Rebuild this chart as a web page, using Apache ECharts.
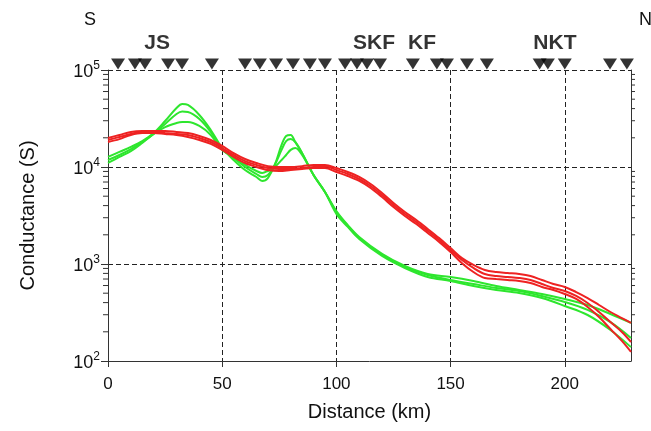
<!DOCTYPE html>
<html><head><meta charset="utf-8">
<script src="https://cdn.jsdelivr.net/npm/echarts@6/dist/echarts.min.js"></script>
<style>html,body{margin:0;padding:0;background:#fff}#c{width:651px;height:431px}</style>
</head><body><div id="c"></div>
<script>
// ---- data (distance in km, conductance in S) ----
const distG = [0,5,10,15,20,25,30,32.5,35,40,45,50,55,60,65,67.5,70,73,76,78,80,82,85,90,95,100,105,110,120,130,140,150,160,170,180,190,200,210,220,229];
const green1 = [12700,14300,16100,18500,22400,29800,40600,44600,43600,34400,24100,15700,11800,9310,7890,7180,7700,10500,16900,20900,21400,18100,13900,8270,5530,3520,2520,1900,1270,953,789,735,668,593,540,491,436,378,305,247];
const green2 = [11800,13300,15300,18100,21900,27800,35200,37300,36900,31300,23000,15300,12400,10000,8470,7890,8270,10500,15000,18500,19400,18100,13900,8270,5530,3440,2470,1850,1240,931,771,684,622,566,527,468,406,336,252,173];
const green3 = [11000,12700,14600,17700,21900,25800,28400,29100,29100,26500,21400,15000,12700,10500,9100,8670,9100,10000,11800,13300,15000,15700,13300,8270,5530,3280,2410,1810,1210,910,735,668,593,540,502,446,369,298,209,139];
const distR = [0,5,10,15,20,25,30,35,40,45,50,55,60,65,70,75,80,85,90,95,100,105,110,115,120,125,130,135,140,145,150,155,160,165,170,175,180,185,190,195,200,205,210,215,220,225,229];
const red1 = [19900,21400,23000,23500,23500,23500,23000,22400,20900,19000,16500,13900,12100,11000,10200,10000,10000,10200,10500,10500,9770,8880,7890,6680,5400,4260,3440,2840,2300,1850,1460,1150,977,867,827,808,789,752,684,622,580,514,446,378,320,277,247];
const red2 = [19000,20400,21900,23000,23000,22400,21900,21400,19900,18100,15700,13300,11500,10500,9770,9530,9530,9770,10000,10200,9310,8470,7520,6370,5140,4060,3280,2710,2190,1770,1390,1100,910,789,752,735,717,684,622,566,527,468,396,320,252,199,157];
const red3 = [18100,19400,21400,22400,22400,21900,21400,20400,19000,17300,15000,12700,11000,10000,9310,9100,9310,9530,9770,9770,8880,8080,7180,6080,4900,3870,3130,2580,2090,1690,1330,1020,827,717,700,684,668,637,580,540,491,436,360,284,214,161,124];
const stationKm = [4.4,11.8,16.2,26.3,32.4,45.5,60,66.5,73.6,81,88.4,95,103.8,109,113.4,119.1,133.5,144,148.4,157.2,165.9,189,192.6,200,219.8,227.2];
const faultNames = ['JS','SKF','KF','NKT'];
const faultKm = [21.5,116.5,137.5,195.7];
const xMax = 229;
const yMin = 100, yMax = 100000;
const yMinorTicks = [200,300,400,500,600,700,800,900,2000,3000,4000,5000,6000,7000,8000,9000,20000,30000,40000,50000,60000,70000,80000,90000];

const FONT = 'Liberation Sans, Arial, sans-serif';
const GREEN = '#2ee62e', RED = '#ee2222';
const zip = (xs, ys) => xs.map((x, i) => [x, ys[i]]);
const lineSeries = (xs, ys, color) => ({
  type: 'line', xAxisIndex: 0, yAxisIndex: 0, data: zip(xs, ys), smooth: 0.35,
  showSymbol: false, symbol: 'none', lineStyle: { color, width: 2 }, silent: true, animation: false
});

const chart = echarts.init(document.getElementById('c'), null, { renderer: 'canvas' });
chart.setOption({
  animation: false,
  backgroundColor: '#fff',
  grid: [
    { left: 108, right: 20, top: 70, bottom: 70 },
    { left: 108, right: 20, top: 57, height: 14 }
  ],
  xAxis: [
    { type: 'value', gridIndex: 0, min: 0, max: xMax, interval: 50,
      name: 'Distance (km)', nameLocation: 'middle', nameGap: 41,
      nameTextStyle: { fontFamily: FONT, fontSize: 20, color: '#111' },
      axisLine: { lineStyle: { color: '#333', width: 1 } },
      axisTick: { show: true, length: 6, lineStyle: { color: '#333' } },
      axisLabel: { fontFamily: FONT, fontSize: 17, color: '#111', margin: 15, showMaxLabel: false },
      splitLine: { show: true, showMinLine: false, showMaxLine: false, lineStyle: { color: '#222', type: [5, 3], width: 1 } } },
    { type: 'value', gridIndex: 1, min: 0, max: xMax, show: false }
  ],
  yAxis: [
    { type: 'log', gridIndex: 0, logBase: 10, min: yMin, max: yMax,
      name: 'Conductance (S)', nameLocation: 'middle', nameGap: 70,
      nameTextStyle: { fontFamily: FONT, fontSize: 20, color: '#111' },
      axisLine: { show: true, lineStyle: { color: '#333', width: 1 } },
      axisTick: { show: true, length: 7, lineStyle: { color: '#333' } },
      axisLabel: { margin: 8, formatter: v => '{b|10}{s|' + Math.round(Math.log10(v)) + '}',
        rich: { b: { fontFamily: FONT, fontSize: 18, color: '#111', padding: [4, 0, 0, 0] },
                s: { fontFamily: FONT, fontSize: 12, color: '#111', padding: [0, 0, 8, 0] } } },
      splitLine: { show: true, showMinLine: false, lineStyle: { color: '#222', type: [5, 3], width: 1 } } },
    { type: 'log', gridIndex: 0, logBase: 10, min: yMin, max: yMax, position: 'right',
      axisLine: { show: true, lineStyle: { color: '#333', width: 1 } },
      axisTick: { show: false }, axisLabel: { show: false }, splitLine: { show: false } },
    { type: 'value', gridIndex: 1, min: 0, max: 1, show: false }
  ],
  series: [
    lineSeries(distG, green1, GREEN),
    lineSeries(distG, green2, GREEN),
    lineSeries(distG, green3, GREEN),
    lineSeries(distR, red1, RED),
    lineSeries(distR, red2, RED),
    lineSeries(distR, red3, RED),
    { type: 'custom', xAxisIndex: 0, yAxisIndex: 0, silent: true,
      data: yMinorTicks.map(v => [0, v]),
      renderItem: (params, api) => {
        const v = api.value(1);
        const l = api.coord([0, v]);
        const r = api.coord([xMax, v]);
        return { type: 'group', children: [
          { type: 'line', shape: { x1: l[0] - 5, y1: l[1], x2: l[0], y2: l[1] }, style: { stroke: '#333', lineWidth: 1 } },
          { type: 'line', shape: { x1: r[0], y1: r[1], x2: r[0] + 4, y2: r[1] }, style: { stroke: '#333', lineWidth: 1 } }
        ] };
      } },
    { type: 'scatter', xAxisIndex: 1, yAxisIndex: 2, silent: true,
      data: stationKm.map(k => [k, 0.5]),
      symbol: 'triangle', symbolRotate: 180, symbolSize: [14, 11],
      itemStyle: { color: '#000' } },
    { type: 'scatter', xAxisIndex: 1, yAxisIndex: 2, silent: true,
      data: faultKm.map((k, i) => ({ value: [k, 0.5], name: faultNames[i] })),
      symbolSize: 0,
      label: { show: true, position: 'inside', offset: [0, -21], formatter: '{b}',
               fontFamily: FONT, fontWeight: 'bold', fontSize: 21, color: '#000' } }
  ],
  graphic: [
    { type: 'text', left: 84, top: 11, style: { text: 'S', font: '18px ' + FONT, fill: '#111' } },
    { type: 'text', left: 639, top: 11, style: { text: 'N', font: '18px ' + FONT, fill: '#111' } }
  ]
});
</script>
</body></html>
